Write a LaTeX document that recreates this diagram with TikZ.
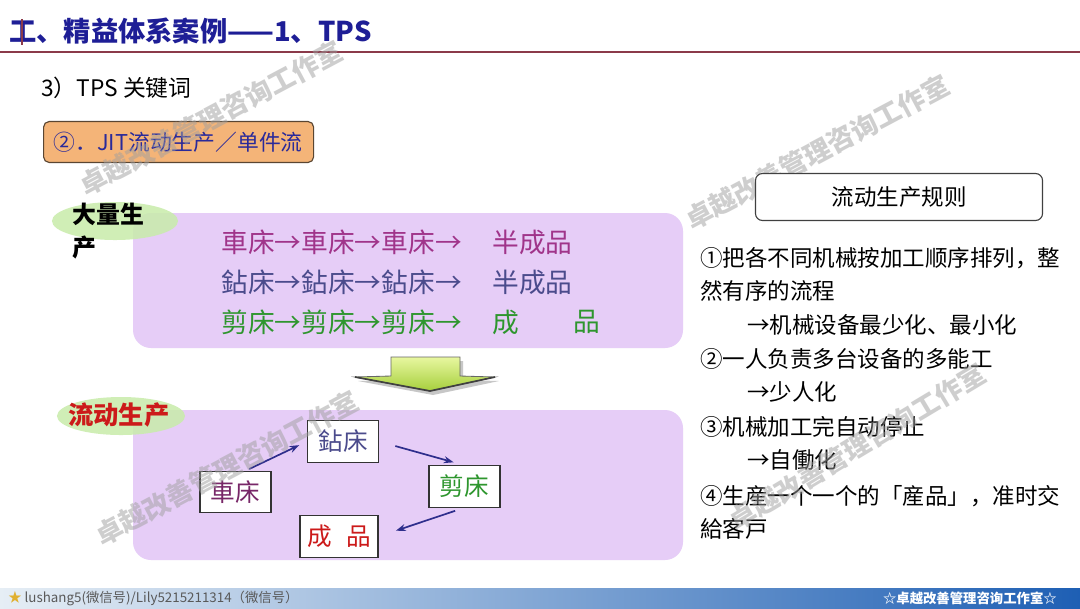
\documentclass[tikz,border=0pt]{standalone}
\usepackage{fontspec}
\setmainfont{Noto Sans CJK SC}
\usetikzlibrary{arrows.meta}
\definecolor{titleblue}{HTML}{1E1E96}
\definecolor{rulered}{HTML}{8B3A4A}
\definecolor{jitorange}{HTML}{F4B478}
\definecolor{boxbrown}{HTML}{5A4632}
\definecolor{jitblue}{HTML}{2A2A9A}
\definecolor{lilac}{HTML}{E6CDF7}
\definecolor{labelgreen}{HTML}{C8ECAA}
\definecolor{rowpurple}{HTML}{A0348A}
\definecolor{rowblue}{HTML}{4B4B8C}
\definecolor{rowgreen}{HTML}{2E962E}
\definecolor{prodred}{HTML}{CC1A1A}
\definecolor{arrowblue}{HTML}{2E2E8C}
\definecolor{arrowlight}{HTML}{E8F7A0}
\definecolor{arrowgreen}{HTML}{A6CF3C}
\definecolor{barlight}{HTML}{E6EEF5}
\definecolor{barmid}{HTML}{8CB9E6}
\definecolor{barblue}{HTML}{1E5FB4}
\definecolor{staryellow}{HTML}{E0B030}
\newcommand{\fsz}[1]{\fontsize{#1}{1.2\dimexpr#1pt\relax}\selectfont}

\begin{document}
\begin{tikzpicture}[
    x=0.025cm, y=-0.025cm,
    >=Stealth,
    font=\fsz{16},
    machine/.style={draw=black!80, fill=white, line width=0.8pt,
        minimum width=1.775cm, minimum height=1.03cm, inner sep=0pt, font=\fsz{17.5}},
    flowarrow/.style={-{Stealth[length=7pt,width=5pt]}, line width=1.2pt, arrowblue},
    rule/.style={anchor=west, inner sep=0pt, font=\fsz{16}},
    rowtext/.style={anchor=west, inner sep=0pt, font=\fsz{19}},
    watermark/.style={inner sep=0pt, font=\bfseries\fsz{19}, text=gray!75, opacity=0.5}
]

    % Page frame: 1080 x 608 px
    \fill[white] (0,0) rectangle (1080,608);
    \useasboundingbox (0,0) rectangle (1080,608);

    % 1. Title and rule
    \node[anchor=west, inner sep=0pt, text=titleblue, font=\bfseries\fsz{19.4}] (title) at (9,31) {工、精益体系案例——1、TPS};
    \draw[rulered, line width=2pt] (22,19) -- (22,45);
    \draw[rulered, line width=0.8pt] (0,52) -- (1080,52);

    \node[anchor=west, inner sep=0pt, font=\fsz{16.2}] (subtitle) at (41,88) {3）TPS 关键词};

    % 2. JIT label box
    \node[anchor=west, draw=boxbrown, fill=jitorange, rounded corners=4pt, line width=0.8pt,
          text width=6.25cm, inner xsep=0.25cm, minimum height=1.025cm,
          text=jitblue, font=\fsz{15.5}] (jit) at (43,142) {②．JIT流动生产／单件流};

    % 3. Mass production panel
    \fill[lilac, rounded corners=0.45cm] (133,213) rectangle (683,348);
    \fill[labelgreen, opacity=0.85] (115,221) ellipse [x radius=1.575cm, y radius=0.475cm];
    \node[anchor=west, inner sep=0pt, align=left, font=\bfseries\fontsize{17}{24}\selectfont] (massprod) at (72,231) {大量生\\产};

    \node[rowtext, text=rowpurple] (row1) at (221,242) {車床→車床→車床→};
    \node[rowtext, text=rowpurple] (row1end) at (492,242) {半成品};
    \node[rowtext, text=rowblue] (row2) at (221,282) {鉆床→鉆床→鉆床→};
    \node[rowtext, text=rowblue] (row2end) at (492,282) {半成品};
    \node[rowtext, text=rowgreen] (row3) at (221,322) {剪床→剪床→剪床→};
    \node[rowtext, text=rowgreen] (row3a) at (492,322) {成};
    \node[rowtext, text=rowgreen] (row3b) at (573,322) {品};

    % 4. Transition arrow
    \fill[gray!55, opacity=0.8] (394,361) -- (463,361) -- (463,380) -- (499,381) -- (433,395) -- (358,381) -- (394,380) -- cycle;
    \shade[top color=arrowlight, bottom color=arrowgreen, draw=black!60, line width=0.6pt]
        (391,357) -- (460,357) -- (460,376) -- (495,377) -- (430,391) -- (355,377) -- (391,376) -- cycle;
    \draw[black!75, line width=1.2pt] (355,377) -- (430,391) -- (495,377);

    % 5. Flow production panel
    \fill[lilac, rounded corners=0.45cm] (133,410) rectangle (683,560);
    \fill[labelgreen, opacity=0.85] (121,416) ellipse [x radius=1.6cm, y radius=0.475cm];
    \node[anchor=west, inner sep=0pt, text=prodred, font=\bfseries\fsz{18}] (flowprod) at (68,415) {流动生产};

    \node[machine, text=rowblue] (zuan) at (343,441.5) {鉆床};
    \node[machine, text=rowpurple!75!black] (che) at (235.5,492) {車床};
    \node[machine, text=rowgreen] (jian) at (464.5,486.5) {剪床};
    \node[machine, text=prodred, minimum width=1.95cm] (cheng) at (339,536.5) {成\hspace{0.6em}品};

    \draw[flowarrow, shorten <=3pt, shorten >=6pt] (che.65) -- (zuan.west);
    \draw[flowarrow, shorten <=12pt, shorten >=8pt] (zuan.east) -- (jian.north);
    \draw[flowarrow, shorten <=7pt, shorten >=13pt] (jian.south) -- (cheng.east);

    % 6. Rules text
    \node[rule] (r1) at (700,258) {①把各不同机械按加工顺序排列，整};
    \node[rule] (r2) at (700,291) {然有序的流程};
    \node[rule] (r3) at (747,325) {→机械设备最少化、最小化};
    \node[rule] (r4) at (700,359) {②一人负责多台设备的多能工};
    \node[rule] (r5) at (747,392) {→少人化};
    \node[rule] (r6) at (700,427) {③机械加工完自动停止};
    \node[rule] (r7) at (747,460) {→自働化};
    \node[rule] (r8) at (700,496) {④生産一个一个的「産品」，准时交};
    \node[rule] (r9) at (700,529) {給客戸};

    % 7. Footer bar
    \shade[left color=barlight, middle color=barmid, right color=barblue] (0,588) rectangle (1080,608);
    \node[anchor=west, inner sep=0pt, text=gray!70!black, font=\fsz{9.5}] (wechat) at (8,598)
        {\textcolor{staryellow}{★} lushang5(微信号)/Lily5215211314（微信号）};
    \node[anchor=east, inner sep=0pt, text=white, font=\bfseries\fsz{9.5}] (studio) at (1057,598) {☆卓越改善管理咨询工作室☆};

    % 8. Watermarks
    \foreach \cx/\cy/\ang [count=\i] in {211/118/28, 817/152/28, 227/468/28, 857/447/31} {
        \node[watermark, rotate=\ang] (wm\i) at (\cx,\cy) {卓越改善管理咨询工作室};
    }

    % Rules heading box sits above the watermark
    \node[draw=black!75, fill=white, rounded corners=5pt, line width=0.8pt,
          minimum width=7.175cm, minimum height=1.175cm, font=\fsz{16}] (rulestitle) at (899,197) {流动生产规则};

\end{tikzpicture}
\end{document}
